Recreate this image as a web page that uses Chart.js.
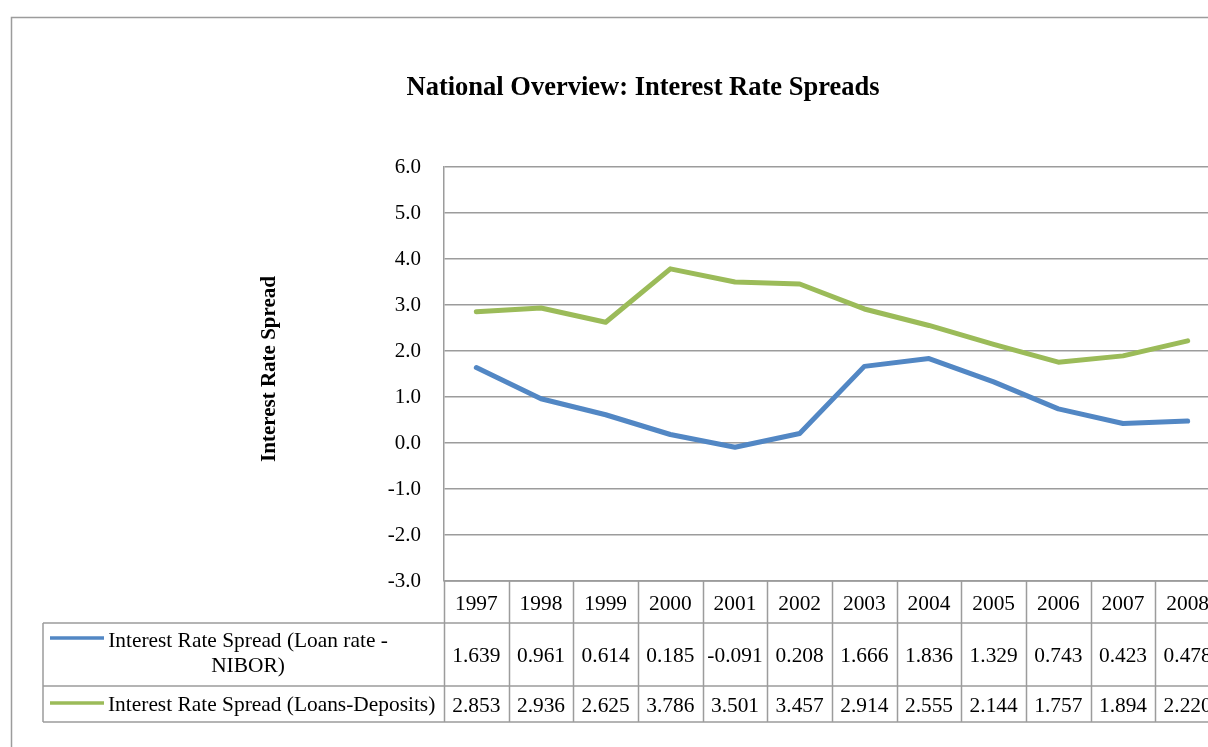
<!DOCTYPE html>
<html>
<head>
<meta charset="utf-8">
<title>National Overview: Interest Rate Spreads</title>
<script src="https://cdn.jsdelivr.net/npm/chart.js@4/dist/chart.umd.min.js"></script>
<style>
  html, body { margin: 0; padding: 0; background: #fff; overflow: hidden; }
  #wrap { position: absolute; left: 0; top: 0; }
</style>
</head>
<body>
<div id="wrap"><canvas id="spreadChart" width="1300" height="747"></canvas></div>
<script>
// Interest rate spreads by year
const years = ['1997', '1998', '1999', '2000', '2001', '2002', '2003', '2004', '2005', '2006', '2007', '2008'];
const loanNibor = [1.639, 0.961, 0.614, 0.185, -0.091, 0.208, 1.666, 1.836, 1.329, 0.743, 0.423, 0.478];
const loansDeposits = [2.853, 2.936, 2.625, 3.786, 3.501, 3.457, 2.914, 2.555, 2.144, 1.757, 1.894, 2.220];
const seriesNames = ['Interest Rate Spread (Loan rate - NIBOR)', 'Interest Rate Spread (Loans-Deposits)'];
const yTicks = [-3, -2, -1, 0, 1, 2, 3, 4, 5, 6];

const BLUE = '#5287C4';
const GREEN = '#9BBB59';
const LINE_GRAY = '#9c9c9c';
const FONT = '"Liberation Serif", "Times New Roman", serif';

// frame, title, vertical axis title and the data table under the plot
const excelLayout = {
  id: 'excelLayout',
  beforeDraw(chart) {
    const ctx = chart.ctx;
    ctx.save();
    ctx.strokeStyle = LINE_GRAY;
    ctx.lineWidth = 1.5;
    ctx.strokeRect(11.5, 17.5, 1400, 800);
    ctx.restore();
  },
  afterDraw(chart) {
    const ctx = chart.ctx;
    const area = chart.chartArea;
    const x = chart.scales.x;
    const n = years.length;
    const colW = (area.right - area.left) / n;

    ctx.save();
    ctx.fillStyle = '#000';
    ctx.textAlign = 'center';
    ctx.textBaseline = 'middle';
    ctx.font = 'bold 26.5px ' + FONT;
    ctx.fillText('National Overview: Interest Rate Spreads', 643, 88);

    ctx.save();
    ctx.translate(270, 369);
    ctx.rotate(-Math.PI / 2);
    ctx.font = 'bold 21px ' + FONT;
    ctx.fillText('Interest Rate Spread', 0, 0);
    ctx.restore();

    // table grid
    const rowTop = area.bottom;
    const row1 = 623, row2 = 686, rowEnd = 722;
    const legLeft = 43;
    ctx.strokeStyle = LINE_GRAY;
    ctx.lineWidth = 1.5;
    ctx.beginPath();
    ctx.moveTo(area.left, rowTop); ctx.lineTo(area.right, rowTop);
    [row1, row2, rowEnd].forEach(y => { ctx.moveTo(legLeft, y); ctx.lineTo(area.right, y); });
    ctx.moveTo(legLeft, row1); ctx.lineTo(legLeft, rowEnd);
    for (let i = 0; i <= n; i++) {
      const cx = Math.round(area.left + i * colW) + 0.5;
      ctx.moveTo(cx, rowTop); ctx.lineTo(cx, rowEnd);
    }
    ctx.stroke();

    // legend keys
    ctx.lineWidth = 3.5;
    ctx.strokeStyle = BLUE;
    ctx.beginPath(); ctx.moveTo(50, 638); ctx.lineTo(104, 638); ctx.stroke();
    ctx.strokeStyle = GREEN;
    ctx.beginPath(); ctx.moveTo(50, 703); ctx.lineTo(104, 703); ctx.stroke();

    ctx.font = '21.4px ' + FONT;
    ctx.fillStyle = '#000';
    ctx.textAlign = 'center';
    ctx.fillText('Interest Rate Spread (Loan rate -', 248, 641);
    ctx.fillText('NIBOR)', 248, 666);
    ctx.textAlign = 'left';
    ctx.fillText(seriesNames[1], 108, 705);

    ctx.textAlign = 'center';
    years.forEach((yr, i) => {
      const cx = x.getPixelForValue(i);
      ctx.fillText(yr, cx, 604);
      ctx.fillText(loanNibor[i].toFixed(3), cx, 656);
      ctx.fillText(loansDeposits[i].toFixed(3), cx, 706);
    });
    ctx.restore();
  }
};

const ctx = document.getElementById('spreadChart').getContext('2d');
new Chart(ctx, {
  type: 'line',
  data: {
    labels: years,
    datasets: [
      { label: seriesNames[0], data: loanNibor, borderColor: BLUE, backgroundColor: BLUE, borderWidth: 5, borderCapStyle: 'round', borderJoinStyle: 'round', pointRadius: 0, tension: 0 },
      { label: seriesNames[1], data: loansDeposits, borderColor: GREEN, backgroundColor: GREEN, borderWidth: 5, borderCapStyle: 'round', borderJoinStyle: 'round', pointRadius: 0, tension: 0 }
    ]
  },
  options: {
    responsive: false,
    animation: false,
    devicePixelRatio: 1,
    layout: { padding: { left: 0, right: 80, top: 167, bottom: 166 } },
    plugins: { legend: { display: false }, tooltip: { enabled: false }, title: { display: false } },
    scales: {
      x: { display: false, offset: true },
      y: {
        min: -3, max: 6,
        afterFit(scale) { scale.width = 444; },
        afterBuildTicks(scale) { scale.ticks = yTicks.map(v => ({ value: v })); },
        border: { display: true, color: LINE_GRAY, width: 1.5 },
        grid: { color: LINE_GRAY, lineWidth: 1.5, drawTicks: false },
        ticks: {
          padding: 23,
          color: '#000',
          font: { family: FONT, size: 21 },
          callback: v => v.toFixed(1)
        }
      }
    }
  },
  plugins: [excelLayout]
});
</script>
</body>
</html>
